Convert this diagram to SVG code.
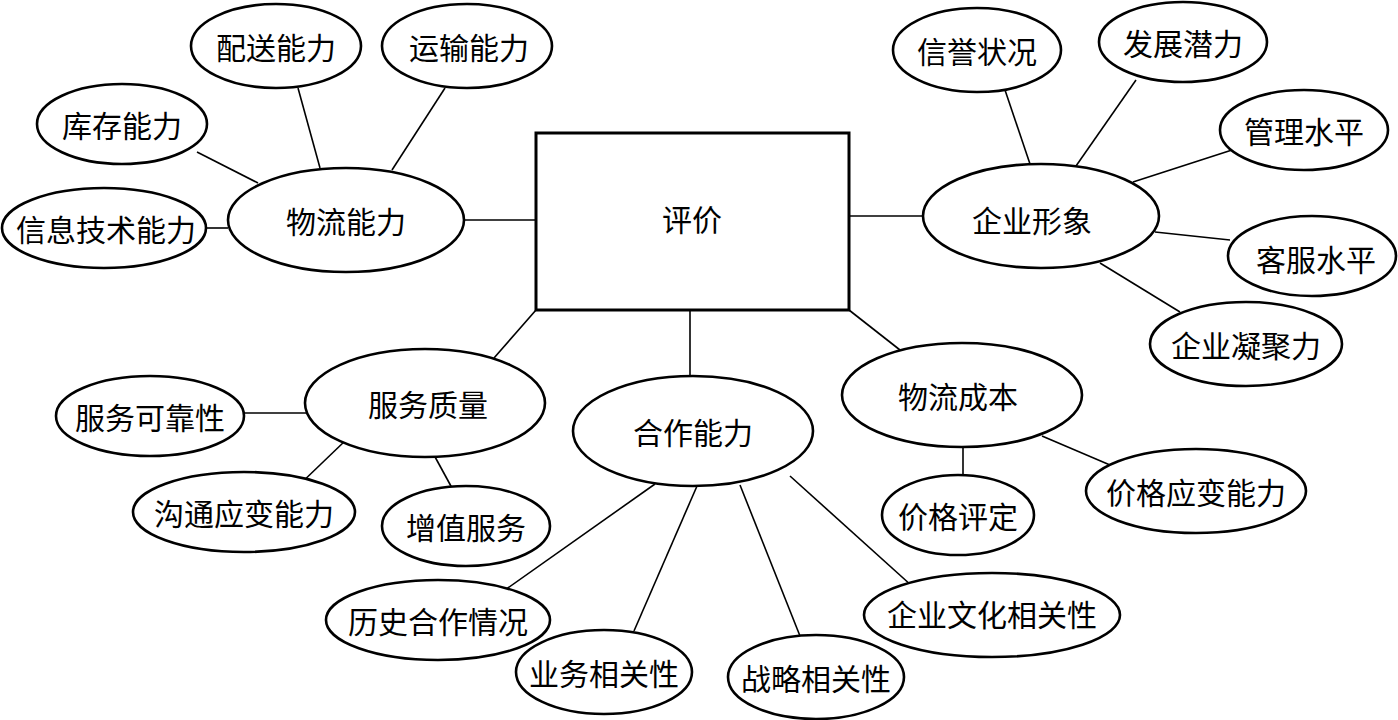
<svg xmlns="http://www.w3.org/2000/svg" width="1398" height="720" viewBox="0 0 1398 720">
<style>
.n ellipse{fill:#fff;stroke:#000;stroke-width:2.6}
.n rect{fill:#fff;stroke:#000;stroke-width:3}
.n text{font-family:"Noto Sans CJK SC","Noto Sans",sans-serif;font-size:30px;fill:#000;text-anchor:middle;dominant-baseline:central}
#edges line{stroke:#000;stroke-width:1.6}
</style>
<rect width="1398" height="720" fill="#fff"/>
<g id="edges">
<line x1="536" y1="220" x2="464" y2="220"/>
<line x1="207" y1="228" x2="228" y2="228"/>
<line x1="197" y1="152" x2="258" y2="183"/>
<line x1="298" y1="88" x2="320" y2="168"/>
<line x1="445" y1="88" x2="392" y2="170"/>
<line x1="849" y1="216" x2="923" y2="216"/>
<line x1="1005" y1="90" x2="1030" y2="164"/>
<line x1="1136" y1="80" x2="1076" y2="166"/>
<line x1="1232" y1="150" x2="1133" y2="182"/>
<line x1="1230" y1="240" x2="1155" y2="232"/>
<line x1="1180" y1="312" x2="1100" y2="263"/>
<line x1="536" y1="310" x2="494" y2="358"/>
<line x1="244" y1="413" x2="308" y2="413"/>
<line x1="296" y1="488" x2="346" y2="440"/>
<line x1="452" y1="488" x2="434" y2="455"/>
<line x1="690" y1="310" x2="690" y2="376"/>
<line x1="505" y1="590" x2="655" y2="484"/>
<line x1="634" y1="631" x2="697" y2="486"/>
<line x1="800" y1="636" x2="740" y2="485"/>
<line x1="912" y1="586" x2="790" y2="476"/>
<line x1="849" y1="310" x2="900" y2="350"/>
<line x1="963" y1="447" x2="963" y2="476"/>
<line x1="1042" y1="436" x2="1110" y2="465"/>
</g>
<g id="center" class="n"><rect x="536" y="133" width="313" height="177"/><text x="692" y="218">评价</text></g>
<g id="wuliunengli" class="n"><ellipse cx="346" cy="220" rx="118" ry="52"/><text x="346" y="220">物流能力</text></g>
<g id="xinxijishu" class="n"><ellipse cx="104" cy="228" rx="102" ry="40"/><text x="106" y="228">信息技术能力</text></g>
<g id="kucun" class="n"><ellipse cx="122" cy="124" rx="85" ry="40"/><text x="122" y="124">库存能力</text></g>
<g id="peisong" class="n"><ellipse cx="276" cy="46" rx="85" ry="42"/><text x="276" y="46">配送能力</text></g>
<g id="yunshu" class="n"><ellipse cx="467" cy="46" rx="85" ry="42"/><text x="469" y="46">运输能力</text></g>
<g id="qiyexingxiang" class="n"><ellipse cx="1041" cy="216" rx="118" ry="52"/><text x="1032" y="219">企业形象</text></g>
<g id="xinyu" class="n"><ellipse cx="977" cy="50" rx="84" ry="42"/><text x="977" y="50">信誉状况</text></g>
<g id="fazhan" class="n"><ellipse cx="1183" cy="42" rx="84" ry="40"/><text x="1183" y="42">发展潜力</text></g>
<g id="guanli" class="n"><ellipse cx="1304" cy="130" rx="84" ry="40"/><text x="1304" y="130">管理水平</text></g>
<g id="kefu" class="n"><ellipse cx="1312" cy="256" rx="84" ry="40"/><text x="1316" y="258">客服水平</text></g>
<g id="ningju" class="n"><ellipse cx="1246" cy="344" rx="96" ry="42"/><text x="1246" y="344">企业凝聚力</text></g>
<g id="fuwuzhiliang" class="n"><ellipse cx="425" cy="403" rx="120" ry="54"/><text x="428" y="403">服务质量</text></g>
<g id="kekao" class="n"><ellipse cx="150" cy="416" rx="94" ry="40"/><text x="150" y="416">服务可靠性</text></g>
<g id="goutong" class="n"><ellipse cx="244" cy="512" rx="111" ry="40"/><text x="244" y="512">沟通应变能力</text></g>
<g id="zengzhi" class="n"><ellipse cx="466" cy="526" rx="84" ry="40"/><text x="466" y="526">增值服务</text></g>
<g id="hezuonengli" class="n"><ellipse cx="693" cy="431" rx="120" ry="55"/><text x="693" y="431">合作能力</text></g>
<g id="lishi" class="n"><ellipse cx="438" cy="620" rx="112" ry="40"/><text x="438" y="620">历史合作情况</text></g>
<g id="yewu" class="n"><ellipse cx="604" cy="672" rx="88" ry="42"/><text x="604" y="672">业务相关性</text></g>
<g id="zhanlue" class="n"><ellipse cx="816" cy="677" rx="88" ry="42"/><text x="816" y="677">战略相关性</text></g>
<g id="wenhua" class="n"><ellipse cx="992" cy="615" rx="128" ry="42"/><text x="992" y="613">企业文化相关性</text></g>
<g id="wuliuchengben" class="n"><ellipse cx="962" cy="395" rx="120" ry="52"/><text x="958" y="395">物流成本</text></g>
<g id="jiageping" class="n"><ellipse cx="958" cy="515" rx="76" ry="40"/><text x="958" y="515">价格评定</text></g>
<g id="jiageying" class="n"><ellipse cx="1196" cy="491" rx="110" ry="42"/><text x="1196" y="491">价格应变能力</text></g>
</svg>
